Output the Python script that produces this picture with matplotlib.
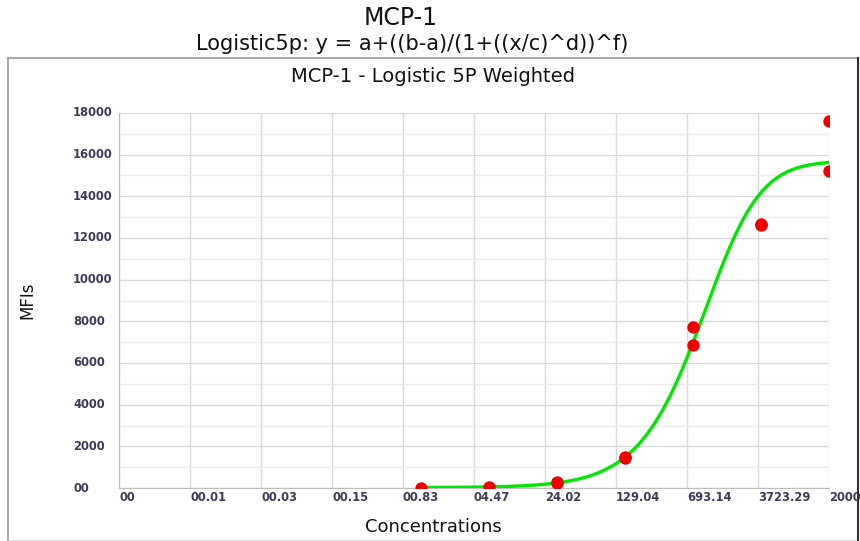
import numpy as np
import matplotlib
matplotlib.use("Agg")
from matplotlib import pyplot as plt
from matplotlib.lines import Line2D
from matplotlib import transforms

# standards (1:5 dilution series) and measured MFIs
conc = [20000, 20000, 4000, 4000, 800, 800, 160, 160, 32, 32, 6.4, 1.28]
mfi = [17600, 15200, 12650, 12600, 7750, 6850, 1500, 1420, 280, 240, 40, 20]

# fitted 5P parameters
a, b, c, d, f = 15700.0, 20.0, 1770.0, 1.2, 1.8

xtick_vals = [0.001, 0.0054, 0.029, 0.155, 0.83, 4.47, 24.02, 129.04, 693.14, 3723.29, 20000]
xtick_labels = ["00", "00.01", "00.03", "00.15", "00.83", "04.47", "24.02",
                "129.04", "693.14", "3723.29", "20000"]
ytick_vals = [0, 2000, 4000, 6000, 8000, 10000, 12000, 14000, 16000, 18000]
ytick_labels = ["00", "2000", "4000", "6000", "8000", "10000", "12000", "14000", "16000", "18000"]


def logistic5p(x):
    return a + (b - a) / (1 + (x / c) ** d) ** f


W, H = 860, 541
plt.rcParams['font.family'] = ['DejaVu Sans']
fig = plt.figure(figsize=(W / 100, H / 100), dpi=100)


def px(x, y):
    return x / W, 1 - y / H


# outer frame
for (x0, y0, x1, y1, col, lw) in [(8, 58, 858, 58, "#9a9a9a", 1.2),
                                   (8, 58, 8, 540, "#9a9a9a", 1.2),
                                   (8, 540, 858, 540, "#e0e0e0", 1.0),
                                   (858, 58, 858, 540, "#303030", 1.5)]:
    p0, p1 = px(x0, y0), px(x1, y1)
    fig.add_artist(Line2D([p0[0], p1[0]], [p0[1], p1[1]], color=col, lw=lw,
                          transform=fig.transFigure, zorder=5))

fig.text(*px(401, 25), "MCP-1", ha="center", va="baseline", fontsize=17, color="#111111")
fig.text(*px(412, 50), "Logistic5p: y = a+((b-a)/(1+((x/c)^d))^f)", ha="center",
         va="baseline", fontsize=15, color="#111111")
fig.text(*px(433, 82), "MCP-1 - Logistic 5P Weighted", ha="center", va="baseline",
         fontsize=14, color="#111111")

ax = fig.add_axes([119 / W, 1 - 488 / H, 710 / W, 375 / H])
ax.set_xscale("log")
ax.set_xlim(0.001, 20000)
ax.set_ylim(0, 18000)

# grid
ax.set_xticks(xtick_vals)
ax.set_xticklabels([])
ax.xaxis.set_minor_locator(matplotlib.ticker.NullLocator())
ax.set_yticks(ytick_vals)
ax.set_yticklabels([])
ax.set_yticks(np.arange(1000, 18000, 2000), minor=True)
ax.grid(True, which="major", color="#dadada", lw=1.0)
ax.grid(True, which="minor", axis="y", color="#ececec", lw=1.0)
ax.tick_params(which="both", length=0)
for s in ["top", "right"]:
    ax.spines[s].set_visible(False)
for s in ["left", "bottom"]:
    ax.spines[s].set_color("#bdbdbd")
ax.set_axisbelow(True)

# tick labels, left aligned
for v, lab in zip(xtick_vals, xtick_labels):
    ax.text(v, -470, lab, ha="left", va="center", fontsize=8.3, fontweight="bold",
            color="#3c3c5a", clip_on=False)
ytrans = transforms.blended_transform_factory(fig.transFigure, ax.transData)
for v, lab in zip(ytick_vals, ytick_labels):
    fig.text(73 / W, v, lab, ha="left", va="center", fontsize=8.3, fontweight="bold",
             color="#3c3c5a", transform=ytrans)

fig.text(*px(433, 532), "Concentrations", ha="center", va="baseline", fontsize=13,
         color="#111111")
fig.text(*px(27, 300), "MFIs", ha="center", va="center", rotation=90, fontsize=12,
         color="#111111")

xs = np.logspace(np.log10(1.28), np.log10(20000), 300)
ax.plot(xs, logistic5p(xs), color="#00e600", lw=2.4, zorder=2)
ax.scatter(conc, mfi, s=80, color="#ee0000", zorder=3, linewidths=0)

fig.savefig("out.png", dpi=100)
